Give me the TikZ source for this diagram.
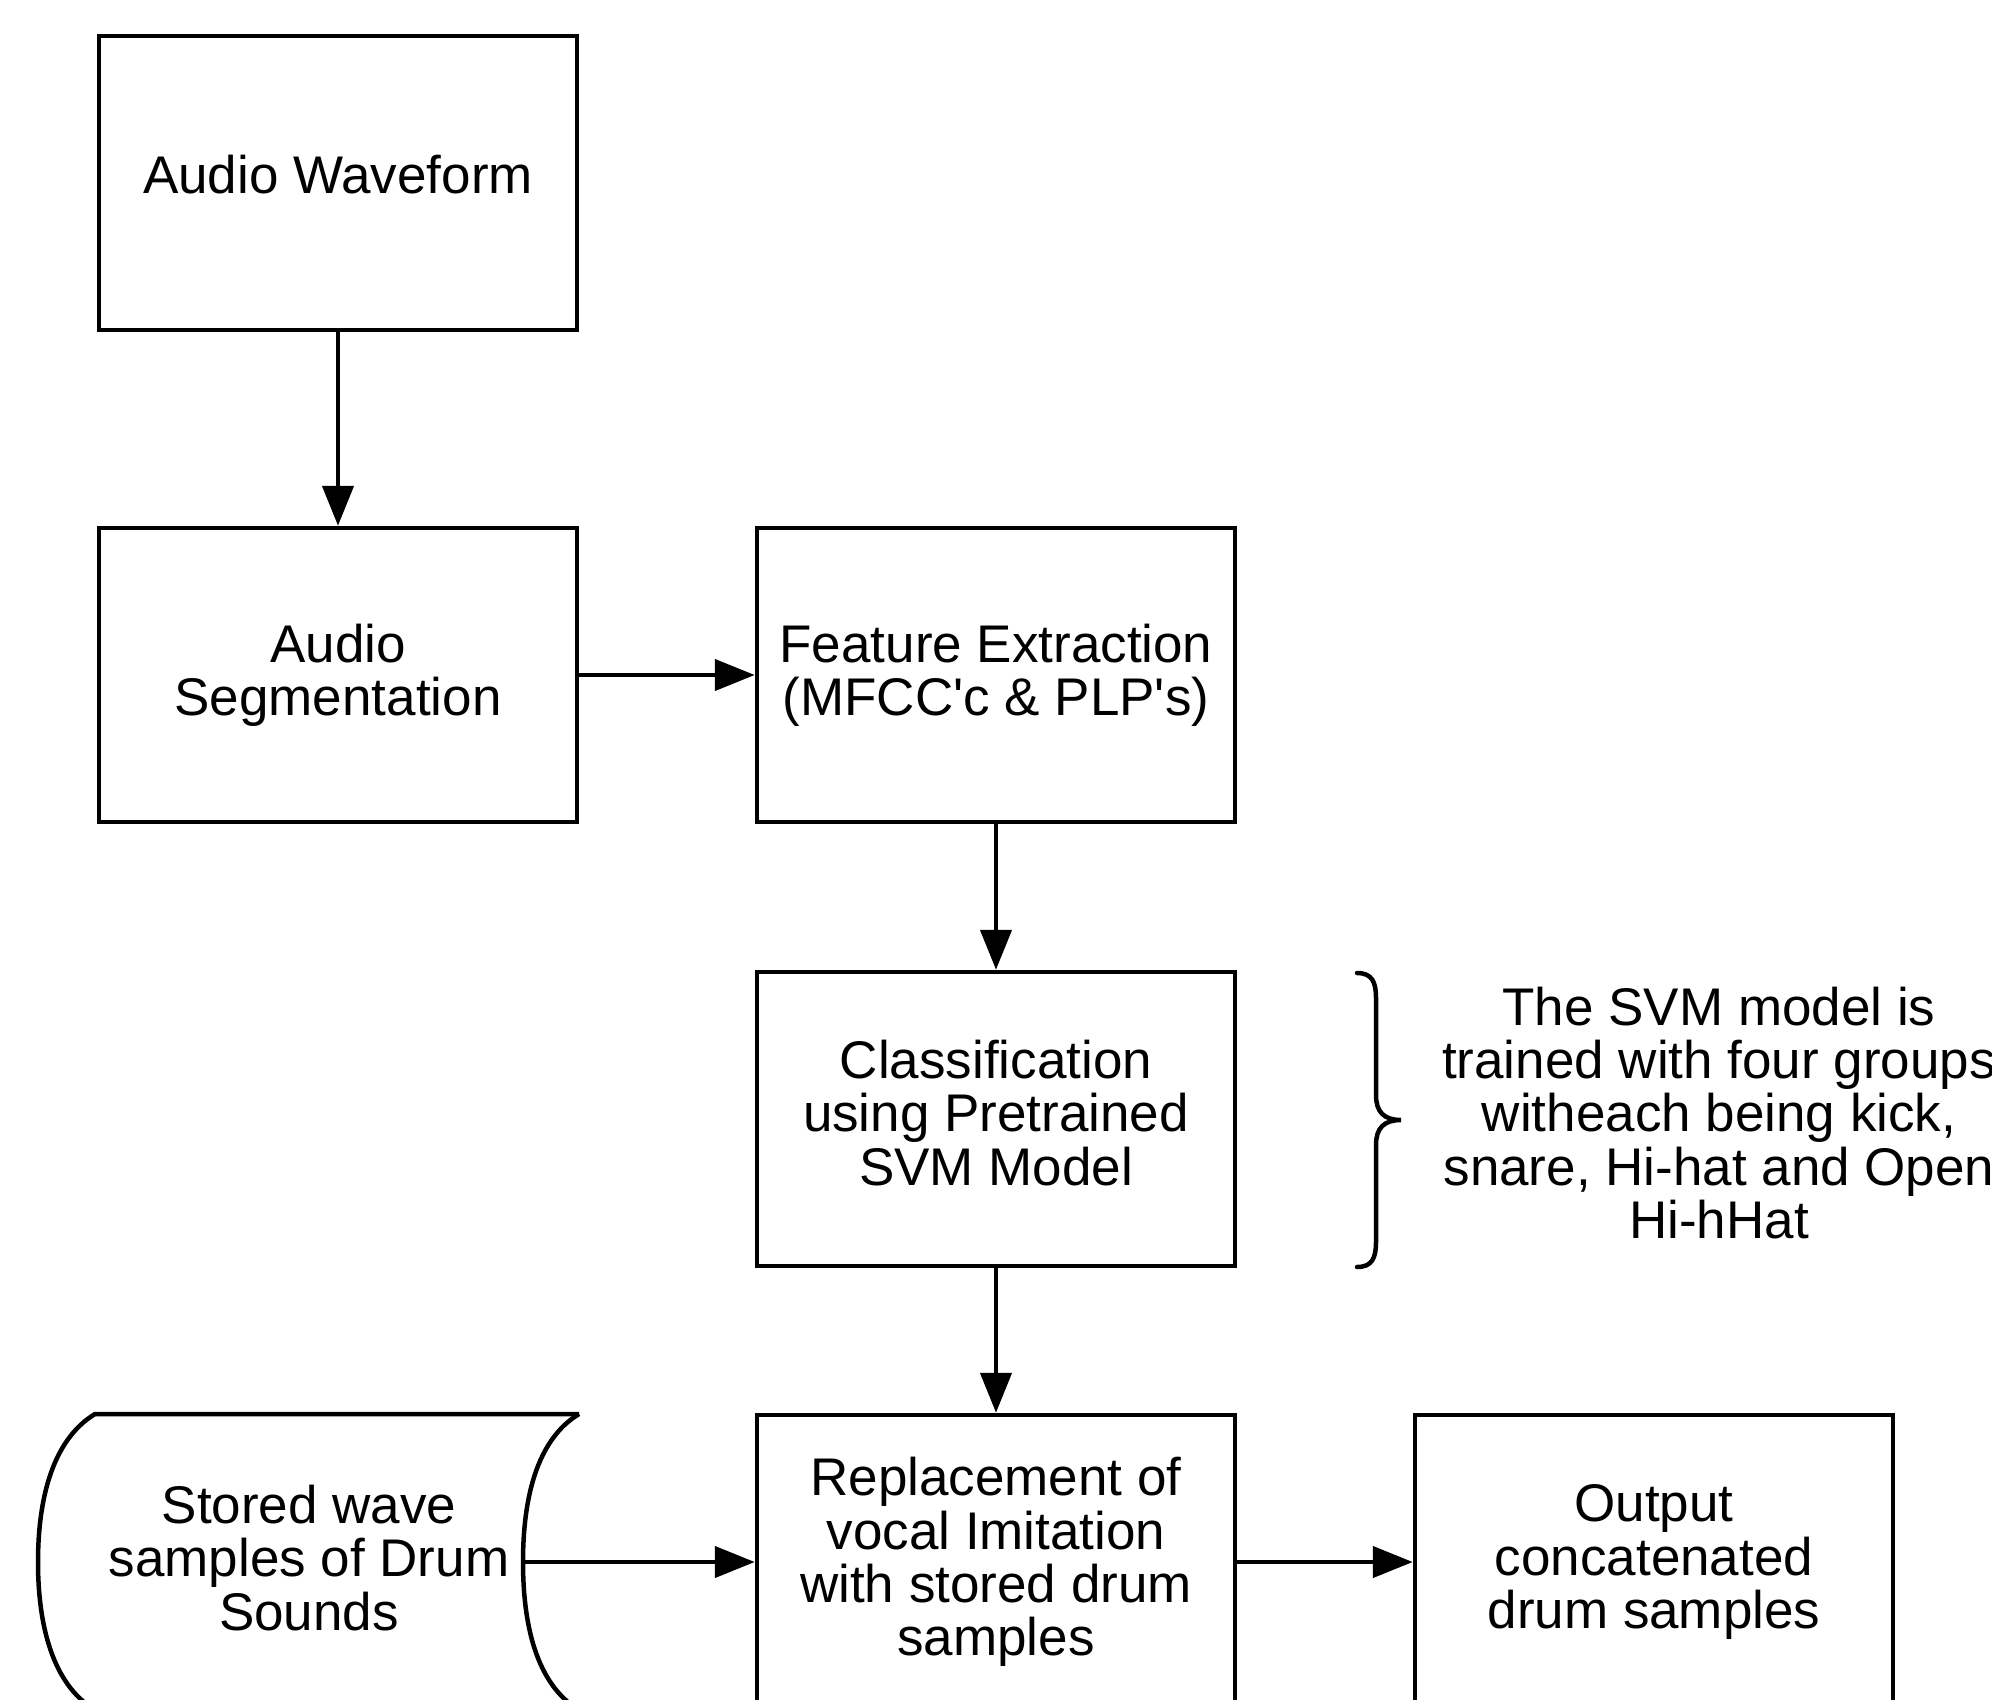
\documentclass[tikz,border=0pt]{standalone}
\usepackage{fontspec}
\setmainfont{Liberation Sans}
\usetikzlibrary{arrows.meta}
\begin{document}
\begin{tikzpicture}[x=1pt,y=-1pt,
  line width=4.5pt,
  every node/.style={font=\fontsize{53}{53.4}\selectfont, align=center},
  box/.style={draw, rectangle, minimum width=478pt, minimum height=294pt, inner sep=0pt},
  lbl/.style={inner sep=0pt},
  arr/.style={-{Triangle[length=40pt,width=31pt]}}]
\clip (0,0) rectangle (1992,1700);
\fill[white] (0,0) rectangle (1992,1700);
\node[box] (b1) at (338,183) {};
\node[lbl] (t1) at ([yshift=8pt]b1.center) {Audio Waveform};
\node[box] (b2) at (338,675) {Audio\\Segmentation};
\node[box] (b3) at (996,675) {Feature Extraction\\(MFCC\textquotesingle c \& PLP\textquotesingle s)};
\node[box] (b4) at (996,1119) {};
\node[lbl] (t4) at ([yshift=6pt]b4.center) {Classification\\using Pretrained\\SVM Model};
\node[box] (b5) at (996,1562) {Replacement of\\vocal Imitation\\with stored drum\\samples};
\node[box] (b6) at (1654,1562) {Output\\concatenated\\drum samples};
% stored data shape
\draw (579,1414) -- (95,1414)
  .. controls (52,1440) and (38,1500) .. (38,1562)
  .. controls (38,1624) and (52,1684) .. (95,1710) -- (579,1710);
\draw (579,1414) .. controls (536,1440) and (523,1500) .. (523,1562)
  .. controls (523,1624) and (536,1684) .. (579,1710);
\node (st) at (309,1558) {Stored wave\\samples of Drum\\Sounds};
\coordinate (stR) at (523,1562);
% brace
\draw[line cap=round] (1357,973) .. controls (1372,973) and (1376,982) .. (1376,998)
  -- (1376,1095) .. controls (1376,1112) and (1384,1120) .. (1401,1120)
  .. controls (1384,1120) and (1376,1128) .. (1376,1145)
  -- (1376,1242) .. controls (1376,1258) and (1372,1267) .. (1357,1267);
\node (note) at (1719,1113) {The SVM model is\\trained with four groups\\witheach being kick,\\snare, Hi-hat and Open\\Hi-hHat};
% connectors
\draw[arr] (b1.south) -- (b2.north);
\draw[arr] (b2.east) -- (b3.west);
\draw[arr] (b3.south) -- (b4.north);
\draw[arr] (b4.south) -- (b5.north);
\draw[arr] (stR) -- (b5.west);
\draw[arr] (b5.east) -- (b6.west);
\end{tikzpicture}
\end{document}
